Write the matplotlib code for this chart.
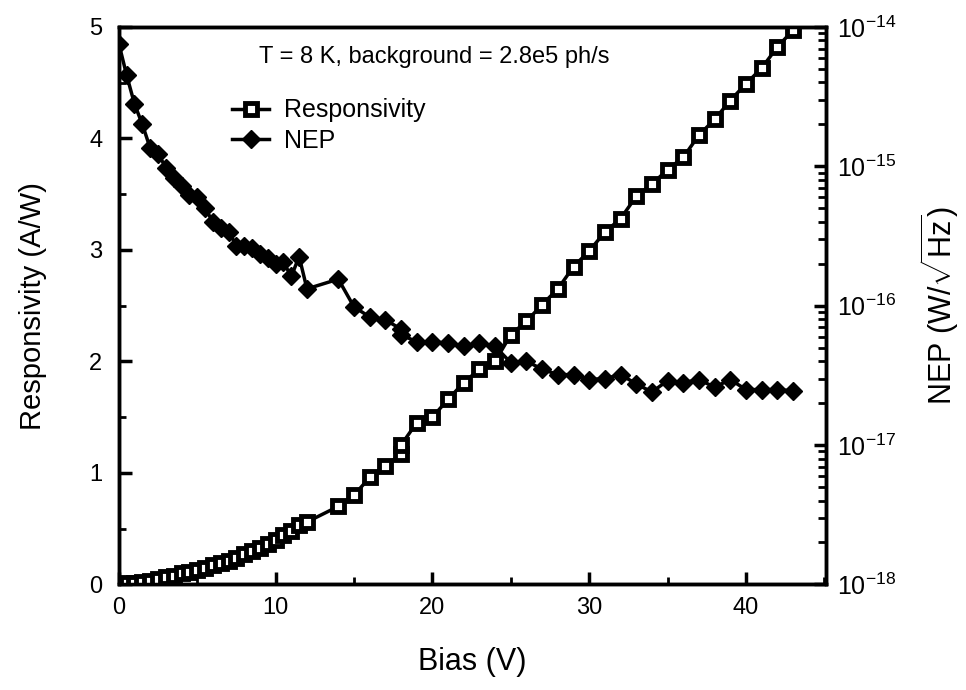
import matplotlib
matplotlib.use("Agg")
import matplotlib.pyplot as plt
from matplotlib.ticker import MultipleLocator, FixedLocator, LogLocator, NullFormatter

plt.rcParams['font.family'] = ['Liberation Sans', 'DejaVu Sans']
plt.rcParams['mathtext.fontset'] = 'custom'
plt.rcParams['mathtext.rm'] = 'Liberation Sans'
plt.rcParams['mathtext.it'] = 'Liberation Sans:italic'

# bias points (V): fine steps up to 12 V, then 1 V steps (two readings at 18 V)
bias = [0, 0.5, 1, 1.5, 2, 2.5, 3, 3.5, 4, 4.5, 5, 5.5, 6, 6.5, 7, 7.5, 8, 8.5,
        9, 9.5, 10, 10.5, 11, 11.5, 12,
        14, 15, 16, 17, 18, 18, 19, 20, 21, 22, 23, 24, 25, 26, 27, 28, 29, 30,
        31, 32, 33, 34, 35, 36, 37, 38, 39, 40, 41, 42, 43]

responsivity = [0.00, 0.01, 0.01, 0.02, 0.03, 0.05, 0.07, 0.08, 0.10, 0.11,
                0.13, 0.15, 0.17, 0.19, 0.21, 0.24, 0.27, 0.30, 0.33, 0.36,
                0.40, 0.44, 0.48, 0.53, 0.56,
                0.70, 0.80, 0.96, 1.06, 1.17, 1.25, 1.45, 1.50, 1.66, 1.81,
                1.93, 2.00, 2.24, 2.36, 2.51, 2.65, 2.85, 2.99, 3.16, 3.28,
                3.48, 3.59, 3.72, 3.83, 4.03, 4.17, 4.34, 4.49, 4.63, 4.82, 4.97]

nep = [7.6e-15, 4.5e-15, 2.8e-15, 2.0e-15, 1.35e-15, 1.23e-15, 9.8e-16, 8.3e-16,
       7.2e-16, 6.2e-16, 6.0e-16, 5.0e-16, 4.0e-16, 3.6e-16, 3.4e-16, 2.7e-16,
       2.7e-16, 2.6e-16, 2.35e-16, 2.2e-16, 2.0e-16, 2.05e-16, 1.62e-16,
       2.25e-16, 1.32e-16,
       1.55e-16, 9.8e-17, 8.3e-17, 7.9e-17, 6.8e-17, 6.2e-17, 5.5e-17, 5.5e-17,
       5.4e-17, 5.1e-17, 5.4e-17, 5.1e-17, 3.9e-17, 4.0e-17, 3.5e-17, 3.2e-17,
       3.2e-17, 2.95e-17, 3.0e-17, 3.2e-17, 2.75e-17, 2.4e-17, 2.9e-17, 2.8e-17,
       2.95e-17, 2.6e-17, 2.95e-17, 2.5e-17, 2.5e-17, 2.5e-17, 2.45e-17]

nep_ticks = [1e-18, 1e-17, 1e-16, 1e-15, 1e-14]

fig = plt.figure(figsize=(9.66, 6.9), dpi=100)
ax = fig.add_axes([0.123, 0.153, 0.732, 0.808])
ax2 = ax.twinx()

l1, = ax.plot(bias, responsivity, color='black', lw=2.5, marker='s', ms=8,
              mfc='white', mec='black', mew=3.5, label='Responsivity', zorder=3)
l2, = ax2.plot(bias, nep, color='black', lw=2.5, marker='D', ms=9.5,
               mfc='black', mec='black', label='NEP', zorder=3)

ax.set_xlim(0, 45.1)
ax.set_ylim(0, 5)
ax2.set_yscale('log')
ax2.set_ylim(1e-18, 1e-14)

ax.xaxis.set_major_locator(MultipleLocator(10))
ax.xaxis.set_minor_locator(MultipleLocator(5))
ax.yaxis.set_major_locator(MultipleLocator(1))
ax.yaxis.set_minor_locator(MultipleLocator(0.5))
ax2.yaxis.set_major_locator(FixedLocator(nep_ticks))
ax2.yaxis.set_minor_locator(LogLocator(base=10, subs=range(2, 10), numticks=20))
ax2.yaxis.set_minor_formatter(NullFormatter())
ax2.set_yticklabels([r'$10^{-18}$', r'$10^{-17}$', r'$10^{-16}$',
                     r'$10^{-15}$', r'$10^{-14}$'])

ax.tick_params(axis='x', which='both', direction='in', top=False, labelsize=17,
               pad=9)
ax.tick_params(axis='y', which='both', direction='in', right=False, labelsize=17,
               pad=12)
ax2.tick_params(axis='y', which='both', direction='in', labelsize=18, pad=8)
ax.tick_params(which='major', length=9, width=2.5)
ax.tick_params(which='minor', length=5, width=2)
ax2.tick_params(which='major', length=9, width=2.5)
ax2.tick_params(which='minor', length=6, width=2)

for a in (ax, ax2):
    for s in a.spines.values():
        s.set_linewidth(2.5)

ax.set_xlabel('Bias (V)', fontsize=22, labelpad=20)
ax.set_ylabel('Responsivity (A/W)', fontsize=21, labelpad=30)
ax2.set_ylabel(r'NEP (W/$\sqrt{\mathrm{Hz}}$)', fontsize=22, labelpad=16)

ax.text(0.446, 0.946, 'T = 8 K, background = 2.8e5 ph/s', transform=ax.transAxes,
        ha='center', va='center', fontsize=17)

ax.legend(handles=[l1, l2], loc='upper left', bbox_to_anchor=(0.16, 0.872),
          frameon=False, fontsize=18, handlelength=1.5, handletextpad=0.6,
          borderaxespad=0, borderpad=0, labelspacing=0.25)

fig.savefig('out.png', dpi=100)
